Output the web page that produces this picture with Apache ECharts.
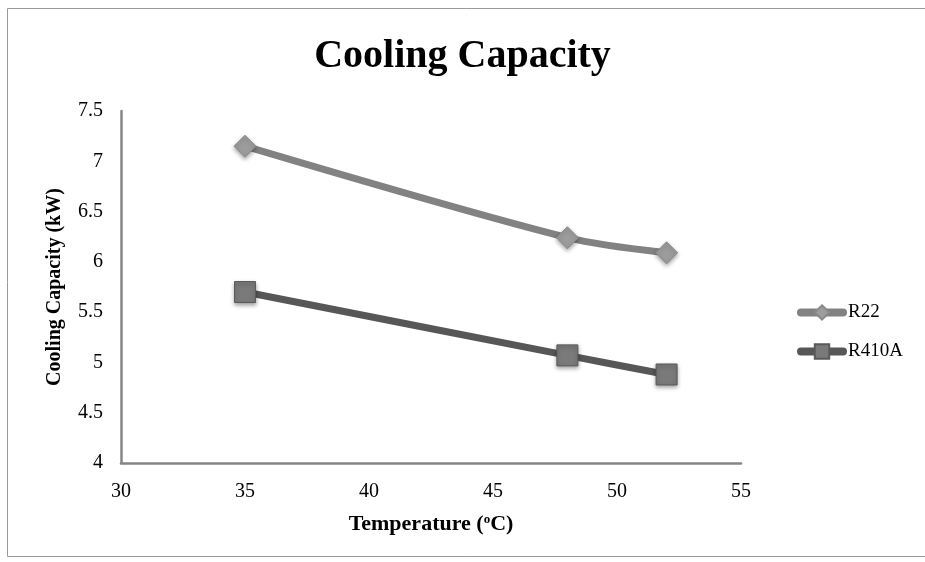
<!DOCTYPE html>
<html>
<head>
<meta charset="utf-8">
<script src="https://cdn.jsdelivr.net/npm/echarts@6/dist/echarts.min.js"></script>
<style>
  html, body { margin: 0; padding: 0; background: #fff; }
  #chart { width: 925px; height: 562px; }
</style>
</head>
<body>
<div id="chart"></div>
<script>
// data
var temps = [35, 48, 52];
var r22 = [7.15, 6.24, 6.09];
var r410a = [5.70, 5.07, 4.88];
var seriesNames = ["R22", "R410A"];

var serif = "'Liberation Serif', 'DejaVu Serif', serif";

function pairs(xs, ys) {
  return xs.map(function (x, i) { return [x, ys[i]]; });
}

var myChart = echarts.init(document.getElementById("chart"));

var option = {
  backgroundColor: "#fff",
  animation: false,
  title: {
    text: "Cooling Capacity",
    left: "center",
    top: 32,
    textStyle: { fontFamily: serif, fontWeight: "bold", fontSize: 40, color: "#000" },
  },
  legend: {
    orient: "vertical",
    left: 792,
    top: 298,
    itemGap: 20,
    itemWidth: 42,
    itemHeight: 18,
    lineStyle: { width: 8, cap: "round" },
    textStyle: { fontFamily: serif, fontSize: 19, color: "#000", padding: [0, 0, 0, 0] },
    data: seriesNames,
  },
  grid: { left: 121, right: 184, top: 111, bottom: 99 },
  xAxis: {
    type: "value",
    min: 30, max: 55, interval: 5,
    nameLocation: "middle",
    nameGap: 50,
    nameTextStyle: { fontFamily: serif, fontWeight: "bold", fontSize: 22, color: "#000" },
    axisLine: { show: true, lineStyle: { color: "#868686", width: 2.5 } },
    axisTick: { show: false },
    splitLine: { show: false },
    axisLabel: { fontFamily: serif, fontSize: 20, color: "#000", margin: 19 },
  },
  yAxis: {
    type: "value",
    min: 4, max: 7.5, interval: 0.5,
    name: "Cooling Capacity (kW)",
    nameLocation: "middle",
    nameGap: 56,
    nameTextStyle: { fontFamily: serif, fontWeight: "bold", fontSize: 20, color: "#000" },
    axisLine: { show: true, lineStyle: { color: "#868686", width: 2.5 } },
    axisTick: { show: false },
    splitLine: { show: false },
    axisLabel: { fontFamily: serif, fontSize: 20, color: "#000", margin: 18 },
  },
  series: [
    {
      name: "R22",
      type: "line",
      smooth: 0.3,
      data: pairs(temps, r22),
      symbol: "diamond",
      symbolSize: 22,
      lineStyle: { color: "#828282", width: 7 },
      itemStyle: {
        color: "#9c9c9c", borderColor: "#8a8a8a", borderWidth: 1,
        shadowColor: "rgba(0,0,0,0.35)", shadowBlur: 4, shadowOffsetY: 2,
      },
    },
    {
      name: "R410A",
      type: "line",
      smooth: 0.3,
      data: pairs(temps, r410a),
      symbol: "rect",
      symbolSize: 21,
      lineStyle: { color: "#575757", width: 7 },
      itemStyle: {
        color: "#7a7a7a", borderColor: "#5a5a5a", borderWidth: 1,
        shadowColor: "rgba(0,0,0,0.35)", shadowBlur: 4, shadowOffsetY: 2,
      },
    },
  ],
  graphic: [
    {
      type: "rect",
      shape: { x: 7.5, y: 8.5, width: 930, height: 548 },
      style: { fill: "none", stroke: "#9a9a9a", lineWidth: 1 },
      silent: true,
    },
  ],
};

// x axis name with superscript "o"
option.xAxis.name = "Temperature ({sup|o}C)";
option.xAxis.nameTextStyle.rich = {
  sup: { fontFamily: serif, fontWeight: "bold", fontSize: 13, color: "#000", verticalAlign: "top", padding: [0, 0, 9, 0] },
};

myChart.setOption(option);
</script>
</body>
</html>
